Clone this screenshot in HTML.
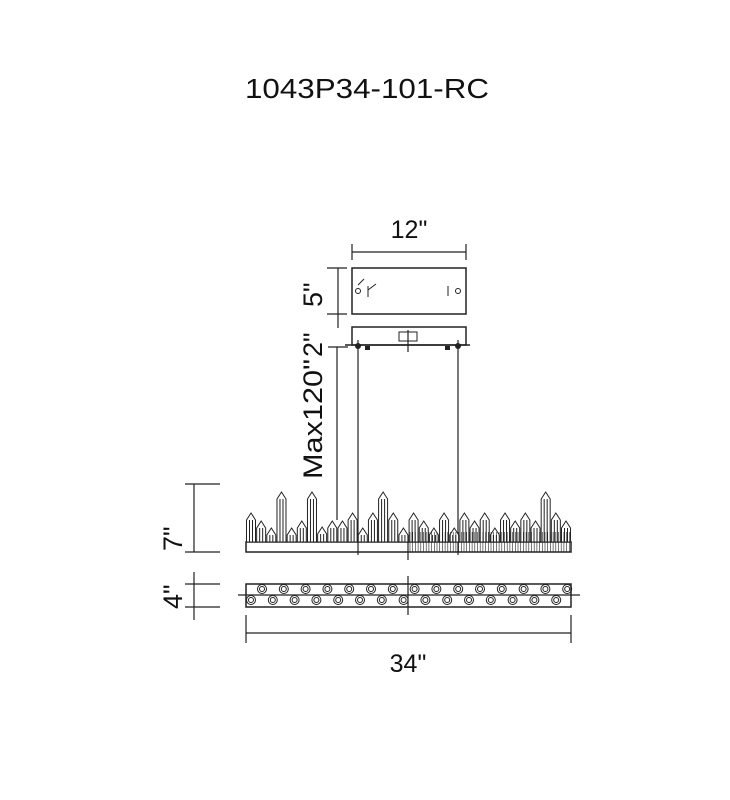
<!DOCTYPE html>
<html><head><meta charset="utf-8"><style>
html,body{margin:0;padding:0;background:#fff;}
svg{display:block;font-family:"Liberation Sans",Arial,sans-serif;}
</style></head><body>
<svg id="s" width="730" height="800" viewBox="0 0 730 800" xmlns="http://www.w3.org/2000/svg">
<text x="367" y="98" font-size="28" text-anchor="middle" fill="#111" textLength="244" lengthAdjust="spacingAndGlyphs">1043P34-101-RC</text>
<g stroke="#222" stroke-width="1.2" fill="none">
<line x1="352" y1="244" x2="352" y2="260"/><line x1="466" y1="244" x2="466" y2="260"/>
<line x1="352" y1="252" x2="466" y2="252"/>
<rect x="352" y="268" width="114" height="46" stroke-width="1.5"/>
<rect x="352" y="327" width="114" height="18" stroke-width="1.5"/>
<line x1="345" y1="345" x2="470" y2="345" stroke-width="1.5"/>
<line x1="408" y1="330" x2="408" y2="352"/>
<rect x="399" y="332" width="18" height="9" stroke-width="1"/>
<line x1="327" y1="268" x2="347" y2="268"/><line x1="327" y1="314" x2="347" y2="314"/>
<line x1="338" y1="268" x2="338" y2="328"/>
<line x1="328" y1="347" x2="348" y2="347"/>
<line x1="337" y1="347" x2="337" y2="520"/>
<line x1="358" y1="340" x2="358" y2="555"/><line x1="458" y1="340" x2="458" y2="555"/>
<line x1="185" y1="484" x2="220" y2="484"/><line x1="185" y1="552" x2="220" y2="552"/>
<line x1="194" y1="484" x2="194" y2="552"/>
<line x1="185" y1="584" x2="220" y2="584"/><line x1="185" y1="607" x2="220" y2="607"/>
<line x1="194" y1="572" x2="194" y2="620"/>
<rect x="246" y="542" width="325" height="10" stroke-width="1.5"/>
<line x1="408" y1="535" x2="408" y2="560"/>
<rect x="246" y="584" width="325" height="23" stroke-width="1.5"/>
<line x1="238" y1="595" x2="580" y2="595"/>
<line x1="408" y1="576" x2="408" y2="615"/>
<line x1="246" y1="615" x2="246" y2="643"/><line x1="571" y1="615" x2="571" y2="643"/>
<line x1="246" y1="633" x2="571" y2="633"/>
</g>
<g fill="#222">
<circle cx="358" cy="346" r="3"/><circle cx="458" cy="346" r="3"/>
<rect x="365" y="346" width="5" height="4"/><rect x="445" y="346" width="5" height="4"/>
</g>
<g stroke="#222" stroke-width="1" fill="none">
<circle cx="358" cy="291" r="2.5"/><line x1="358" y1="285" x2="364" y2="279"/>
<line x1="368" y1="286" x2="368" y2="297"/><line x1="368" y1="290" x2="376" y2="284"/>
<circle cx="458" cy="291" r="2.5"/><line x1="448" y1="286" x2="448" y2="296"/>
</g>
<g id="cr" stroke="#222" stroke-width="1" fill="#fff"></g>
<g id="hx" stroke="#222" stroke-width="1" fill="none"></g>
<text x="409" y="238" font-size="25" text-anchor="middle" fill="#111">12"</text>
<text x="408" y="672" font-size="25" text-anchor="middle" fill="#111">34"</text>
<g font-size="27" fill="#111">
<text transform="translate(322,307) rotate(-90)">5"</text>
<text transform="translate(322,357) rotate(-90)">2"</text>
<text transform="translate(322,479) rotate(-90)" textLength="120" lengthAdjust="spacingAndGlyphs">Max120"</text>
<text transform="translate(182,551) rotate(-90)">7"</text>
<text transform="translate(182,609) rotate(-90)">4"</text>
</g>
</svg>
<script>
var ns="http://www.w3.org/2000/svg";
var cr=document.getElementById("cr"),hx=document.getElementById("hx");
var tops=[513,521,528,492,528,521,492,527,521,521,513,528,513,492,513,528,513,521,528,513,528,513,521,513,528,513,521,513,521,492,513,521];
var n=tops.length;
for(var i=0;i<n;i++){
 var x=251+i*(315/(n-1));var t=tops[i];var w=9;
 var p=document.createElementNS(ns,"path");
 p.setAttribute("d","M"+(x-w/2)+",542 L"+(x-w/2)+","+(t+7)+" L"+x+","+t+" L"+(x+w/2)+","+(t+7)+" L"+(x+w/2)+",542 Z M"+(x-1.5)+","+(t+7)+" L"+(x-1.5)+",542 M"+(x+1.5)+","+(t+7)+" L"+(x+1.5)+",542");
 cr.appendChild(p);
}
for(var k=0;k<60;k++){var l=document.createElementNS(ns,"line");var xx=410+k*2.7;
 l.setAttribute("x1",xx);l.setAttribute("x2",xx);l.setAttribute("y1",532);l.setAttribute("y2",552);l.setAttribute("stroke-width","0.6");cr.appendChild(l);}
function hex(cx,cy){var c=document.createElementNS(ns,"circle");c.setAttribute("cx",cx);c.setAttribute("cy",cy);c.setAttribute("r",4.5);hx.appendChild(c);
 var c2=document.createElementNS(ns,"circle");c2.setAttribute("cx",cx);c2.setAttribute("cy",cy);c2.setAttribute("r",2.5);hx.appendChild(c2);}
for(var i=0;i<15;i++)hex(262+i*21.8,589);
for(var i=0;i<15;i++)hex(251+i*21.8,600);
</script>
</body></html>
